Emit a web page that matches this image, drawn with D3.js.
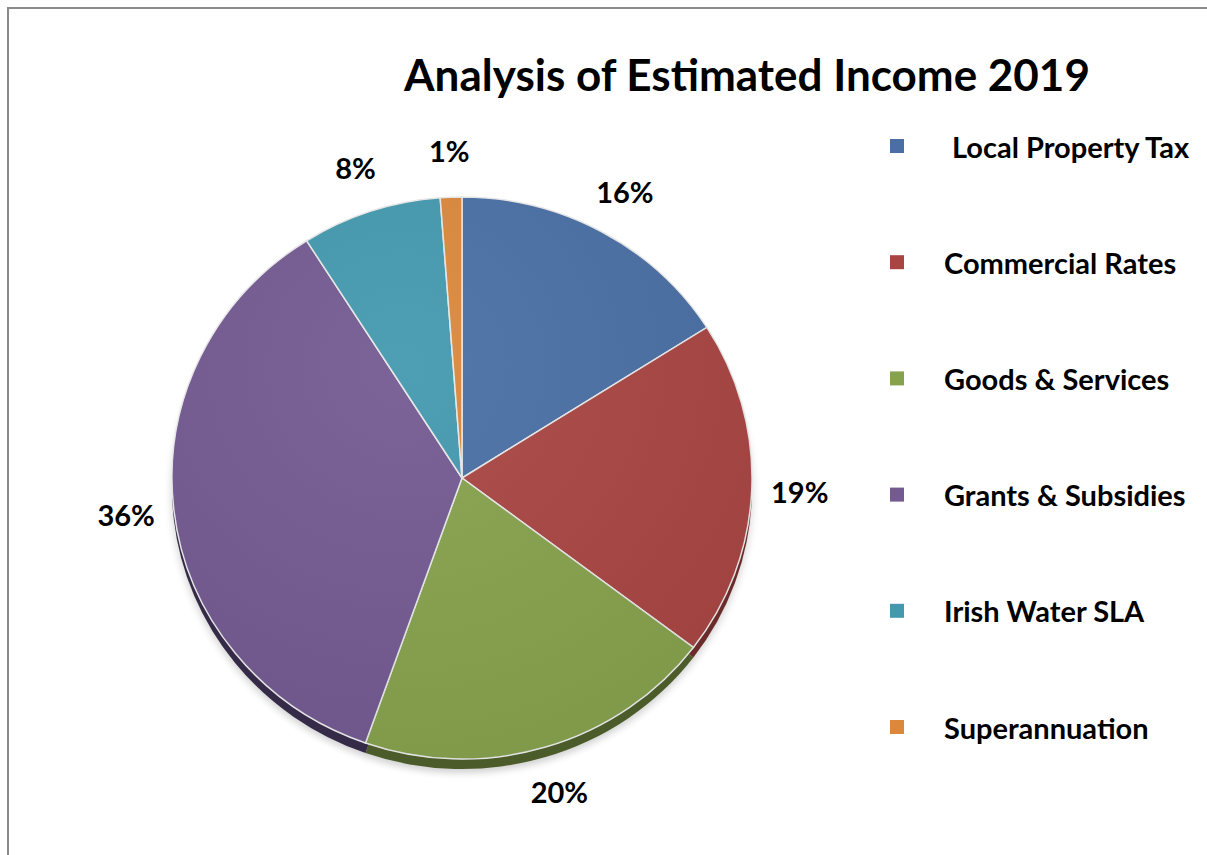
<!DOCTYPE html>
<html>
<head>
<meta charset="utf-8">
<script src="https://cdn.jsdelivr.net/npm/d3@7"></script>
<style>
  html, body { margin: 0; padding: 0; background: #fff; }
  svg { display: block; }
</style>
</head>
<body>
<script>
const title = "Analysis of Estimated Income 2019";
const categories = ["Local Property Tax", "Commercial Rates", "Goods & Services", "Grants & Subsidies", "Irish Water SLA", "Superannuation"];
const values = [16.0, 19.3, 20.1, 35.6, 7.8, 1.2];
const labels = ["16%", "19%", "20%", "36%", "8%", "1%"];
const colors = ["#4a6fa5", "#a84543", "#86a24d", "#735a91", "#4499af", "#db883c"];
const rimColors = ["#2c4468", "#6b2b2a", "#4c5b2a", "#352a47", "#2a5e6c", "#8a5524"];

const W = 1207, H = 855;
const cx = 462, cy = 478, rx = 290, ry = 281, k = ry / rx;
const FONT = "Lato, 'Open Sans', sans-serif";

const svg = d3.select("body").append("svg").attr("width", W).attr("height", H);

// frame
svg.append("path").attr("d", `M8,${H} L8,8 L${W},8`).attr("fill", "none").attr("stroke", "#8a8a8a").attr("stroke-width", 2);

const defs = svg.append("defs");
const f = defs.append("filter").attr("id", "shadow").attr("x", "-20%").attr("y", "-20%").attr("width", "140%").attr("height", "140%");
f.append("feGaussianBlur").attr("stdDeviation", 4);

const lg = defs.append("radialGradient").attr("id", "shine").attr("cx", "0.4").attr("cy", "0.3").attr("r", "0.8");
lg.append("stop").attr("offset", "0").attr("stop-color", "#fff").attr("stop-opacity", 0.06);
lg.append("stop").attr("offset", "1").attr("stop-color", "#000").attr("stop-opacity", 0.06);

const pie = d3.pie().sort(null).value(d => d);
const arcs = pie(values);
const arc = d3.arc().innerRadius(0).outerRadius(rx);

// shadow
svg.append("g").attr("transform", `translate(${cx},${cy + 14}) scale(1,${k})`)
  .append("circle").attr("r", rx).attr("fill", "#000").attr("opacity", 0.18).attr("filter", "url(#shadow)");

// rim (3D side)
svg.append("g").attr("transform", `translate(${cx},${cy + 10}) scale(1,${k})`)
  .selectAll("path").data(arcs).join("path")
  .attr("d", arc).attr("fill", (d, i) => rimColors[i]);

// face
const face = svg.append("g").attr("transform", `translate(${cx},${cy}) scale(1,${k})`);
face.selectAll("path").data(arcs).join("path")
  .attr("d", arc).attr("fill", (d, i) => colors[i])
  .attr("stroke", "#e8e8e8").attr("stroke-width", 1.5).attr("vector-effect", "non-scaling-stroke");
face.append("circle").attr("r", rx).attr("fill", "url(#shine)");

// data labels
const labelArc = d3.arc().innerRadius(338).outerRadius(338);
svg.append("g").selectAll("text").data(arcs).join("text")
  .attr("x", d => cx + labelArc.centroid(d)[0])
  .attr("y", d => cy + labelArc.centroid(d)[1] * k)
  .attr("text-anchor", "middle").attr("dominant-baseline", "central")
  .attr("font-family", FONT).attr("font-weight", "bold").attr("font-size", 29)
  .attr("fill", "#000")
  .text((d, i) => labels[i]);

// title
svg.append("text").attr("x", 747).attr("y", 91).attr("text-anchor", "middle")
  .attr("font-family", FONT).attr("font-weight", "bold").attr("font-size", 44)
  .attr("fill", "#000").text(title);

// legend
const ly = d3.scalePoint().domain(categories).range([146, 727]);
const leg = svg.append("g").selectAll("g").data(categories).join("g")
  .attr("transform", d => `translate(890,${ly(d)})`);
leg.append("rect").attr("x", 0).attr("y", -7).attr("width", 14).attr("height", 14)
  .attr("fill", (d, i) => colors[i]);
leg.append("text").attr("x", (d, i) => i === 0 ? 62 : 54).attr("y", 0).attr("dominant-baseline", "central")
  .attr("font-family", FONT).attr("font-weight", "bold").attr("font-size", 29)
  .attr("fill", "#000").text(d => d);
</script>
</body>
</html>
